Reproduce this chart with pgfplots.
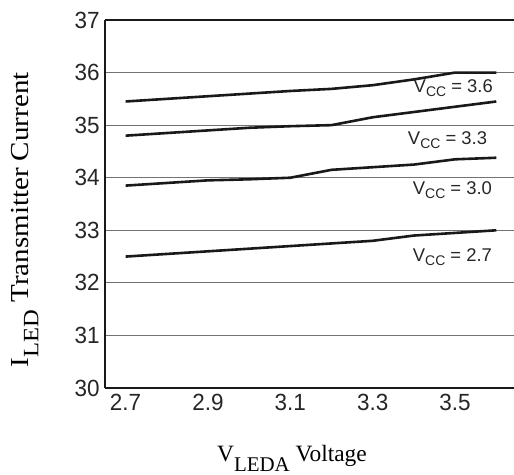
\documentclass[border=0pt]{standalone}
\usepackage{fontspec}
\setmainfont{Liberation Sans}
\newfontfamily\serif{Liberation Serif}
\usepackage{pgfplots}
\pgfplotsset{compat=1.18}

\begin{document}
\begin{tikzpicture}
\begin{axis}[
  name=ax,
  scale only axis,
  width=409bp, height=368bp,
  xmin=2.65, xmax=3.643,
  ymin=30, ymax=37,
  xtick={2.7,2.9,3.1,3.3,3.5},
  ytick={30,31,...,37},
  major tick length=0pt,
  axis x line=box, axis y line=left,
  axis line style={-, line width=2.3bp, black!90},
  ymajorgrids,
  grid style={line width=1bp, black!55},
  /pgf/number format/assume math mode=true,
  xticklabel style={/pgf/number format/fixed, /pgf/number format/precision=1,
    /pgf/number format/fixed zerofill},
  ticklabel style={font=\fontsize{23.5}{23.5}\selectfont, text=black!85, xscale=0.96},
  xticklabel style={yshift=-3bp},
  yticklabel style={xshift=-2bp},
  xlabel={\serif V\raisebox{-10bp}{\fontsize{21}{21}\selectfont LEDA} Voltage},
  xlabel style={at={(axis description cs:0.457,-0.19)}, anchor=center,
    font=\fontsize{23.5}{23.5}\selectfont},
  ylabel={\serif I\raisebox{-10bp}{\fontsize{22}{22}\selectfont LED} Transmitter Current},
  ylabel style={at={(axis description cs:-0.196,0.457)}, anchor=center,
    font=\fontsize{26}{26}\selectfont, xscale=1.12},
  every axis plot/.append style={line width=2.6bp, black!90},
]
% Vcc = 3.6
\addplot[] table {
x y
2.7 35.45
2.8 35.50
2.9 35.55
3.0 35.60
3.1 35.65
3.2 35.69
3.3 35.76
3.4 35.87
3.5 36.00
3.6 36.00
};
% Vcc = 3.3
\addplot[] table {
x y
2.7 34.80
2.8 34.85
2.9 34.90
3.0 34.95
3.1 34.98
3.2 35.00
3.3 35.15
3.4 35.25
3.5 35.35
3.6 35.45
};
% Vcc = 3.0
\addplot[] table {
x y
2.7 33.85
2.8 33.90
2.9 33.95
3.0 33.97
3.1 34.00
3.2 34.15
3.3 34.20
3.4 34.25
3.5 34.35
3.6 34.38
};
% Vcc = 2.7
\addplot[] table {
x y
2.7 32.50
2.8 32.55
2.9 32.60
3.0 32.65
3.1 32.70
3.2 32.75
3.3 32.80
3.4 32.90
3.5 32.95
3.6 33.00
};
\begin{scope}[every node/.style={anchor=east, inner sep=0pt, text=black!85,
    font=\fontsize{18.5}{18.5}\selectfont}]
\node at (axis cs:3.592,35.70) {V\raisebox{-4bp}{\fontsize{14}{14}\selectfont CC} = 3.6};
\node at (axis cs:3.578,34.71) {V\raisebox{-4bp}{\fontsize{14}{14}\selectfont CC} = 3.3};
\node at (axis cs:3.590,33.76) {V\raisebox{-4bp}{\fontsize{14}{14}\selectfont CC} = 3.0};
\node at (axis cs:3.590,32.49) {V\raisebox{-4bp}{\fontsize{14}{14}\selectfont CC} = 2.7};
\end{scope}
\end{axis}
\pgfresetboundingbox
\path ([xshift=-105bp,yshift=-86bp]ax.south west) rectangle ([yshift=20bp]ax.north east);
\end{tikzpicture}
\end{document}
